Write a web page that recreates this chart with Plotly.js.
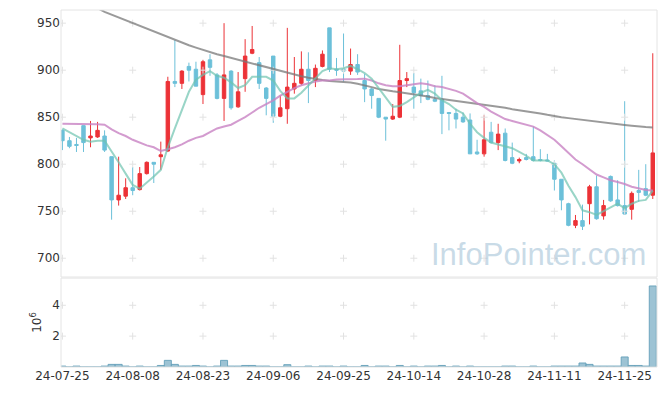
<!DOCTYPE html>
<html>
<head>
<meta charset="utf-8">
<script src="https://cdn.plot.ly/plotly-3.0.1.min.js"></script>
<style>html,body{margin:0;padding:0;background:#fff;}#chart{width:665px;height:396px;}</style>
</head>
<body>
<div id="chart"></div>
<script>
const dates = ['24-07-25','24-07-26','24-07-29','24-07-30','24-07-31','24-08-01','24-08-02','24-08-05','24-08-06','24-08-07','24-08-08','24-08-09','24-08-12','24-08-13','24-08-14','24-08-16','24-08-19','24-08-20','24-08-21','24-08-22','24-08-23','24-08-26','24-08-27','24-08-28','24-08-29','24-08-30','24-09-02','24-09-03','24-09-04','24-09-05','24-09-06','24-09-09','24-09-10','24-09-11','24-09-12','24-09-13','24-09-19','24-09-20','24-09-23','24-09-24','24-09-25','24-09-26','24-09-27','24-09-30','24-10-02','24-10-04','24-10-07','24-10-08','24-10-10','24-10-11','24-10-14','24-10-15','24-10-16','24-10-17','24-10-18','24-10-21','24-10-22','24-10-23','24-10-24','24-10-25','24-10-28','24-10-29','24-10-30','24-10-31','24-11-01','24-11-04','24-11-05','24-11-06','24-11-07','24-11-08','24-11-11','24-11-12','24-11-13','24-11-14','24-11-15','24-11-18','24-11-19','24-11-20','24-11-21','24-11-22','24-11-25','24-11-26','24-11-27','24-11-28','24-11-29'];

const openP  = [836,825,821,841,828,829,830,808,762,766,775,773,790,802,808,814,888,886,904,901,874,911,895,870,899,861,891,918,908,881,915,851,859,880,886,901,889,904,945,901,901,899,906,889,880,870,850,848,850,889,882,878,873,869,869,855,854,850,847,813,811,834,823,833,807,803.5,807,808,805,804.5,801,784,758,735,740,758,776,745,787,762,756,752,772,774,767];
const highP  = [837,829,828,841,846,845,836,808,808,785,797,797,803,802,824,893,932,900,908,909,911,917,897,950,900,898,933,947,914,882,915,873,945,914,920,919,906,921,945,913,939,923,917,896,881,870,850,864,927,898,897,891,889,884,894,855,859,855,854,826,852,845,843,838,823,807,811,840,816,811,804,784,759,746,757,778,788,762,788,783,867,771,794,800,918];
const lowP   = [815,817,813,813,818,828,813,741,756,763,767,772,789,780,794,813,882,880,888,883,864,894,869,846,858,860,877,917,880,852,844,850,843,875,884,865,882,903,898,894,888,895,895,866,859,849,825,847,849,882,859,865,868,866,832,836,838,844,811,810,808,822,815,803,800,801,804,803,803,803,772,751,734,732,730,736,741,741,760,755,746,741,760,766,763];
const closeP = [825,819,820,823,830,836,815,762,767,775,772,790,802,800,810,888,886,899,900,883,909,903,870,895,860,877,915,922,886,870,851,860,882,886,901,889,902,917,901,900,899,906,898,880,873,850,848,851,889,891,876,873,869,867,854,854,848,845,811,811,826,823,832,804,801,805,805,804,804,803.5,784,762,735,740,734,776,742,756,761,756,747,769,770,767,812];

const ma5   = [838,834,830,826,824,825,825,814,802,790,778,774,780,787,794,818,838,857,877,890,895,899,894,892,887,881,884,893,893,893,889,878,870,870,876,884,892,899,902,901,902,904.5,901,897,891,881,870,861,862,866,871,876,879,875,868,864,858,854,843,834,828,823,821,819,817,813,809,804,804,804,800,791,777,765,751,749,746,750,754,758,753,758,761,762,772];
const ma20  = [843,843,842.5,842.5,842.5,842.5,842,837,833,830,826,823,820,818,814,816,818,821,825,828,830,834,838,840,842,846,850,855,860,864,868,873,877,881,884,886,888,889,889,890,890,890,890.5,891,889,886,884,883,883,884,885,886,885,883,882,880,878,875,870,865,861,856,852,848,846,844,842,840,836,831,826,819,812,805,800,794,789,786,783,781,779,776,774,772.5,772];
const ma120 = [981,978,975,972,969,966,962,959,956,953,950,947,944,941,938,935,932,929,926.5,924,921.5,919,917,915,913,911,909,907.5,905.5,903.5,901.5,899.5,897,895,893.5,892,890.5,889.5,888.5,888,887.5,887,885.5,884,882,880,878.5,877.5,876.5,875.5,874.5,873.5,872,870.5,869.5,868.5,867.5,866.5,865.5,864.5,863,862,861,860,858.5,857.5,856,855,854,852.5,851,850,849,848,847,846,845,844,843.3,842.6,841.8,841,840,839.5,839];

const volume = [60000,5000,60000,5000,5000,5000,60000,170000,170000,60000,5000,60000,5000,5000,100000,430000,170000,60000,60000,100000,60000,5000,60000,430000,60000,60000,100000,100000,60000,60000,5000,5000,150000,5000,5000,60000,5000,60000,60000,5000,60000,5000,5000,100000,5000,60000,60000,5000,100000,5000,60000,5000,60000,60000,100000,5000,60000,5000,60000,5000,5000,5000,5000,60000,60000,5000,5000,60000,5000,5000,60000,60000,60000,60000,260000,170000,60000,60000,60000,60000,650000,100000,100000,60000,5250000];

const priceTicks = [700,750,800,850,900,950];
const volTicks = [2000000,4000000];
const volTickText = ['2','4'];
const xTickIdx = [0,10,20,30,40,50,60,70,80];
const xTicks = xTickIdx.map(i => dates[i]);

// grid crosses at tick intersections
const gx = [], gy = [], gx2 = [], gy2 = [];
xTicks.forEach(d => { priceTicks.forEach(p => { gx.push(d); gy.push(p); }); volTicks.forEach(v => { gx2.push(d); gy2.push(v); }); });

const crossStyle = {symbol:'cross-thin', size:5, color:'#e2e2e2', line:{color:'#e2e2e2', width:1}};
const font = 'DejaVu Sans, sans-serif';

const traces = [
  {type:'candlestick', x:dates, open:openP, high:highP, low:lowP, close:closeP, xaxis:'x', yaxis:'y',
   increasing:{line:{color:'#ec3237', width:1}, fillcolor:'#ec3237'},
   decreasing:{line:{color:'#6cc0d9', width:1}, fillcolor:'#6cc0d9'},
   whiskerwidth:0, showlegend:false, hoverinfo:'skip'},
  {type:'bar', x:dates, y:volume, xaxis:'x', yaxis:'y2', marker:{color:'rgba(140,185,205,0.85)', line:{color:'rgba(100,160,185,0.9)', width:1}}, showlegend:false, hoverinfo:'skip'},
  {type:'scatter', mode:'markers', x:gx, y:gy, xaxis:'x', yaxis:'y', marker:crossStyle, hoverinfo:'skip', showlegend:false},
  {type:'scatter', mode:'markers', x:gx2, y:gy2, xaxis:'x', yaxis:'y2', marker:crossStyle, hoverinfo:'skip', showlegend:false},
  {type:'scatter', mode:'lines', x:dates, y:ma120, xaxis:'x', yaxis:'y', line:{color:'rgba(120,120,120,0.75)', width:2}, showlegend:false, hoverinfo:'skip'},
  {type:'scatter', mode:'lines', x:dates, y:ma20, xaxis:'x', yaxis:'y', line:{color:'rgba(200,130,195,0.8)', width:2}, showlegend:false, hoverinfo:'skip'},
  {type:'scatter', mode:'lines', x:dates, y:ma5, xaxis:'x', yaxis:'y', line:{color:'rgba(110,195,175,0.7)', width:2}, showlegend:false, hoverinfo:'skip'}
];

const layout = {
  width:665, height:396,
  margin:{l:61, r:8, t:10, b:29},
  paper_bgcolor:'#fff', plot_bgcolor:'#fff',
  showlegend:false, bargap:0, hovermode:false,
  font:{family:font, size:12, color:'#333'},
  xaxis:{type:'category', categoryorder:'array', categoryarray:dates, range:[-0.2, 84.6], anchor:'y2',
         tickvals:xTicks, ticktext:xTicks, tickangle:0,
         showgrid:false, zeroline:false, showline:false, ticks:'', rangeslider:{visible:false},
         tickfont:{family:font, size:12, color:'#333'}},
  yaxis:{domain:[0.252,1], range:[680,964], tickvals:priceTicks, showgrid:false, zeroline:false,
         showline:false, ticks:'', tickfont:{family:font, size:12, color:'#333'}},
  yaxis2:{domain:[0,0.249], range:[0,5760000], tickvals:volTicks, ticktext:volTickText, showgrid:false,
          zeroline:false, showline:false, ticks:'', tickfont:{family:font, size:12, color:'#333'},
          title:{text:'10<sup>6</sup>', font:{family:font, size:12, color:'#333'}, standoff:8}},
  shapes:[
    {type:'rect', xref:'paper', yref:'paper', x0:0, x1:1, y0:0.252, y1:1, line:{color:'#e4e4e4', width:1}},
    {type:'rect', xref:'paper', yref:'paper', x0:0, x1:1, y0:0, y1:0.249, line:{color:'#e4e4e4', width:1}}
  ],
  annotations:[
    {xref:'paper', yref:'paper', x:0.985, y:0.314, xanchor:'right', yanchor:'middle', showarrow:false,
     text:'InfoPointer.com', font:{family:'Liberation Sans, Arial, sans-serif', size:31, color:'rgba(165,195,215,0.6)'}}
  ]
};

Plotly.newPlot('chart', traces, layout, {staticPlot:true, displayModeBar:false});
</script>
</body>
</html>
